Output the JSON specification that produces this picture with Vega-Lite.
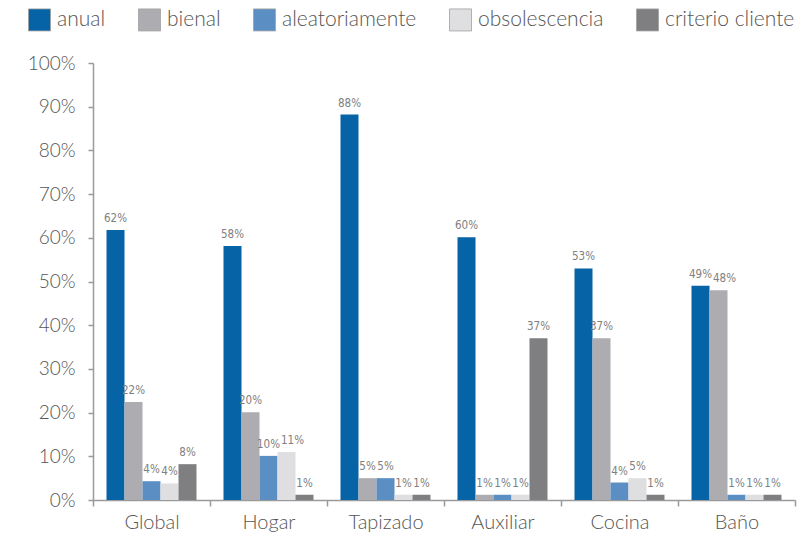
{
  "$schema": "https://vega.github.io/schema/vega-lite/v6.json",
  "width": 702,
  "height": 437,
  "autosize": {"type": "none"},
  "padding": {"left": 93, "top": 63, "right": 11, "bottom": 35},
  "background": "white",
  "config": {"view": {"stroke": null}},
  "data": {
    "values": [
      {"cat": "Global", "serie": "anual", "v": 0.618},
      {"cat": "Global", "serie": "bienal", "v": 0.224},
      {"cat": "Global", "serie": "aleatoriamente", "v": 0.043},
      {"cat": "Global", "serie": "obsolescencia", "v": 0.038},
      {"cat": "Global", "serie": "criterio cliente", "v": 0.082},
      {"cat": "Hogar", "serie": "anual", "v": 0.581},
      {"cat": "Hogar", "serie": "bienal", "v": 0.201},
      {"cat": "Hogar", "serie": "aleatoriamente", "v": 0.101},
      {"cat": "Hogar", "serie": "obsolescencia", "v": 0.11},
      {"cat": "Hogar", "serie": "criterio cliente", "v": 0.012},
      {"cat": "Tapizado", "serie": "anual", "v": 0.882},
      {"cat": "Tapizado", "serie": "bienal", "v": 0.05},
      {"cat": "Tapizado", "serie": "aleatoriamente", "v": 0.05},
      {"cat": "Tapizado", "serie": "obsolescencia", "v": 0.012},
      {"cat": "Tapizado", "serie": "criterio cliente", "v": 0.012},
      {"cat": "Auxiliar", "serie": "anual", "v": 0.601},
      {"cat": "Auxiliar", "serie": "bienal", "v": 0.012},
      {"cat": "Auxiliar", "serie": "aleatoriamente", "v": 0.012},
      {"cat": "Auxiliar", "serie": "obsolescencia", "v": 0.012},
      {"cat": "Auxiliar", "serie": "criterio cliente", "v": 0.37},
      {"cat": "Cocina", "serie": "anual", "v": 0.53},
      {"cat": "Cocina", "serie": "bienal", "v": 0.37},
      {"cat": "Cocina", "serie": "aleatoriamente", "v": 0.04},
      {"cat": "Cocina", "serie": "obsolescencia", "v": 0.05},
      {"cat": "Cocina", "serie": "criterio cliente", "v": 0.012},
      {"cat": "Baño", "serie": "anual", "v": 0.49},
      {"cat": "Baño", "serie": "bienal", "v": 0.48},
      {"cat": "Baño", "serie": "aleatoriamente", "v": 0.012},
      {"cat": "Baño", "serie": "obsolescencia", "v": 0.012},
      {"cat": "Baño", "serie": "criterio cliente", "v": 0.012}
    ]
  },
  "encoding": {
    "x": {
      "field": "cat", "type": "nominal",
      "sort": ["Global", "Hogar", "Tapizado", "Auxiliar", "Cocina", "Baño"],
      "scale": {"paddingInner": 0, "paddingOuter": 0},
      "axis": {
        "title": null, "labelAngle": 0, "tickBand": "extent",
        "domainColor": "#9a9a9a", "domainWidth": 1.5,
        "tickColor": "#9a9a9a", "tickWidth": 1.5, "tickSize": 6,
        "labelFont": "Lato", "labelFontWeight": 300, "labelFontSize": 20, "labelColor": "#555555",
        "labelPadding": 6
      }
    },
    "xOffset": {
      "field": "serie", "type": "nominal",
      "sort": ["anual", "bienal", "aleatoriamente", "obsolescencia", "criterio cliente"],
      "scale": {"paddingInner": 0, "paddingOuter": 0.75}
    },
    "y": {
      "field": "v", "type": "quantitative",
      "scale": {"domain": [0, 1], "nice": false},
      "axis": {
        "title": null, "format": ".0%", "grid": false,
        "values": [0, 0.1, 0.2, 0.3, 0.4, 0.5, 0.6, 0.7, 0.8, 0.9, 1],
        "domainColor": "#9a9a9a", "domainWidth": 1.5,
        "tickColor": "#9a9a9a", "tickWidth": 1.5, "tickSize": 5,
        "labelFont": "Lato", "labelFontWeight": 300, "labelFontSize": 19, "labelColor": "#555555",
        "labelPadding": 13
      }
    }
  },
  "layer": [
    {
      "mark": {"type": "bar"},
      "encoding": {
        "color": {
          "field": "serie", "type": "nominal",
          "sort": ["anual", "bienal", "aleatoriamente", "obsolescencia", "criterio cliente"],
          "scale": {
            "domain": ["anual", "bienal", "aleatoriamente", "obsolescencia", "criterio cliente"],
            "range": ["#0563A6", "#ADADB1", "#5B8FC4", "#DFDFE1", "#7F7F81"]
          },
          "legend": {
            "title": null, "orient": "none", "direction": "horizontal",
            "legendX": -65, "legendY": -55,
            "symbolType": "square", "symbolSize": 484,
            "symbolStrokeColor": "#a0a0a0", "symbolStrokeWidth": 0.8,
            "labelFont": "Lato", "labelFontWeight": 300, "labelFontSize": 21, "labelColor": "#555555",
            "labelOffset": 6, "columnPadding": 30, "symbolOpacity": 1
          }
        }
      }
    },
    {
      "transform": [{"filter": "!((datum.cat === 'Hogar' && datum.serie === 'obsolescencia') || (datum.cat === 'Baño' && datum.serie === 'bienal'))"}],
      "mark": {
        "type": "text", "dy": -6, "baseline": "bottom", "align": "center",
        "font": "DejaVu Sans Condensed, sans-serif",
        "fontWeight": "normal", "fontSize": 11.5, "letterSpacing": -0.3, "color": "#808080"
      },
      "encoding": {
        "text": {"field": "v", "type": "quantitative", "format": ".0%"}
      }
    },
    {
      "transform": [{"filter": "(datum.cat === 'Hogar' && datum.serie === 'obsolescencia') || (datum.cat === 'Baño' && datum.serie === 'bienal')"}],
      "mark": {
        "type": "text", "dy": -6, "dx": 6, "baseline": "bottom", "align": "center",
        "font": "DejaVu Sans Condensed, sans-serif",
        "fontWeight": "normal", "fontSize": 11.5, "letterSpacing": -0.3, "color": "#808080"
      },
      "encoding": {
        "text": {"field": "v", "type": "quantitative", "format": ".0%"}
      }
    }
  ]
}
